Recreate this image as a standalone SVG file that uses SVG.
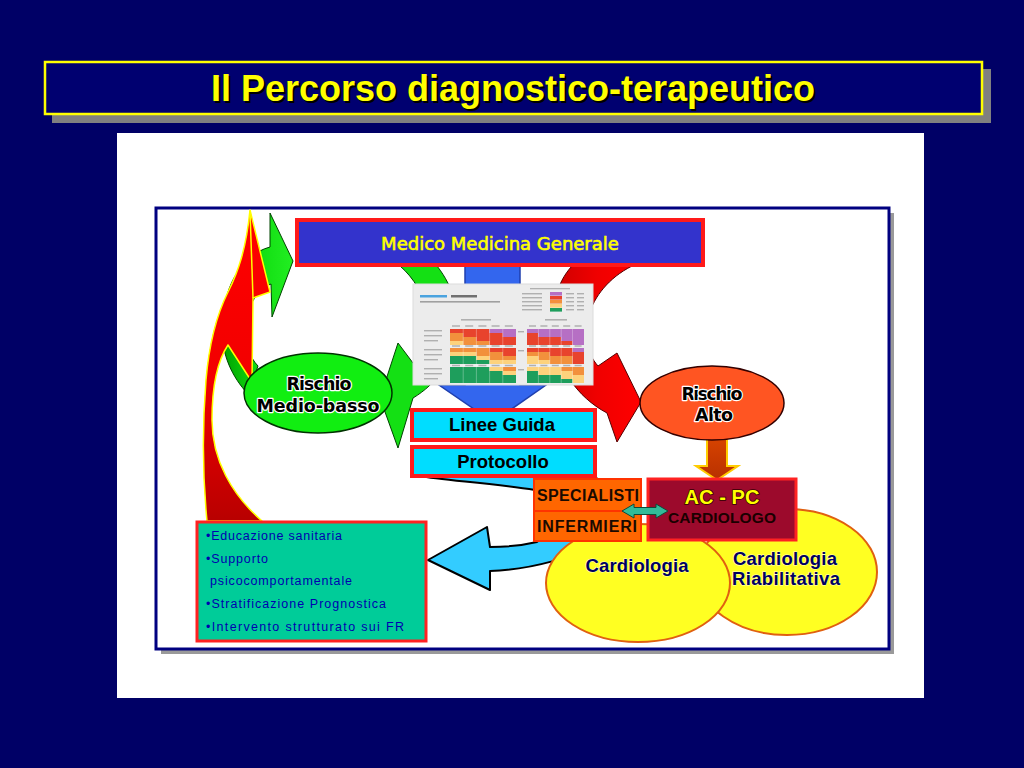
<svg xmlns="http://www.w3.org/2000/svg" width="1024" height="768" viewBox="0 0 1024 768">
<defs>
<linearGradient id="gRed" x1="0" y1="0" x2="0" y2="1"><stop offset="0" stop-color="#ff0000"/><stop offset="0.55" stop-color="#f20000"/><stop offset="1" stop-color="#b80000"/></linearGradient>
<linearGradient id="gGreen" x1="0" y1="0" x2="1" y2="0"><stop offset="0" stop-color="#00a000"/><stop offset="0.5" stop-color="#11dd11"/><stop offset="1" stop-color="#22ee22"/></linearGradient>
<linearGradient id="gRed2" x1="0" y1="0" x2="1" y2="0"><stop offset="0" stop-color="#cc0000"/><stop offset="0.5" stop-color="#f00000"/><stop offset="1" stop-color="#ff0000"/></linearGradient>
<linearGradient id="gOrange" x1="0" y1="0" x2="0" y2="1"><stop offset="0" stop-color="#d84400"/><stop offset="1" stop-color="#b83000"/></linearGradient>
<style>
.b{font-family:"Liberation Sans",Arial,sans-serif;font-weight:bold}
.d{font-family:"DejaVu Sans",Verdana,sans-serif}
.halo{font-family:"DejaVu Sans",Verdana,sans-serif;font-weight:bold;font-size:17.5px;fill:#000;stroke:#fff;stroke-width:2.4;paint-order:stroke;stroke-linejoin:round}
.nav{font-family:"Liberation Sans",Arial,sans-serif;font-weight:bold;font-size:18.5px;fill:#000060;stroke:#ffffc0;stroke-width:1;paint-order:stroke}
.li{font-family:"Liberation Sans",Arial,sans-serif;font-size:12.5px;fill:#0000b0}
.redbox{stroke:#ff1a1a;stroke-width:4}
.P{fill:#b66fc4}.R{fill:#e8432d}.O{fill:#f2903c}.Y{fill:#fdd27c}.G{fill:#1e9e5c}
.tiny{fill:#b0b0b0}
</style>
</defs>

<rect x="0" y="0" width="1024" height="768" fill="#000066"/>

<g id="title">
<rect x="52" y="69" width="939" height="54" fill="#808080"/>
<rect x="45" y="62" width="937" height="52" fill="#000070" stroke="#ffff00" stroke-width="2.5"/>
<text x="515" y="103" text-anchor="middle" class="b" font-size="36" fill="#000000">Il Percorso diagnostico-terapeutico</text>
<text x="513" y="101" text-anchor="middle" class="b" font-size="36" fill="#ffff00">Il Percorso diagnostico-terapeutico</text>
</g>

<rect x="117" y="133" width="807" height="565" fill="#ffffff"/>

<g id="frame">
<rect x="161" y="213" width="733" height="441" fill="#9a9a9a"/>
<rect x="156" y="208" width="733" height="441" fill="#ffffff" stroke="#000080" stroke-width="3"/>
</g>

<g id="connectors">
<!-- green arrow: Rischio Medio-basso to Medico -->
<path d="M270,247 L270,213 L293,261 L272,317 L271,284 C255,290 246,310 246,330 C246,345 250,358 258,366 L248,394 C232,377 222,355 222,330 C222,290 240,255 270,247 Z" fill="url(#gGreen)" stroke="#004400" stroke-width="1"/>
<!-- big red return arrow -->
<path d="M250,210 L270,292 L253,298 L252,382 L228,345 C218,360 212,385 212,420 C212,460 232,495 262,521 L207,521 C203,480 202,430 206,380 C209,345 215,318 228,292 C238,272 246,250 250,210 Z" fill="url(#gRed)" stroke="#ffff00" stroke-width="1.5" stroke-linejoin="round"/>
<line x1="250" y1="211" x2="253" y2="298" stroke="#ffff00" stroke-width="1.5"/>
<!-- green arc: Medico to Rischio Medio-basso -->
<path d="M400,266 C428,290 440,335 413,363 L398,343 L380,398 L398,448 L413,398 C460,370 472,310 437,266 Z" fill="#14e014" stroke="#004400" stroke-width="1"/>
<!-- red arc: Medico to Rischio Alto -->
<path d="M572,266 C540,300 545,380 607,413 L617,442 L641,402 L617,353 L598,366 C575,340 585,290 632,266 Z" fill="url(#gRed2)" stroke="#550000" stroke-width="1"/>
<!-- blue arrow down -->
<path d="M465,266 L520,266 L520,385 L546,385 L493,422 L439,385 L465,385 Z" fill="#3366ee" stroke="#1f3fae" stroke-width="1.5"/>
<!-- orange arrow down -->
<path d="M707,436 L727,436 L727,466 L738,466 L717,480 L696,466 L707,466 Z" fill="url(#gOrange)" stroke="#ffcc00" stroke-width="2"/>
<!-- cyan arrow to teal box -->
<path d="M420,476 C440,480 490,483 535,490 C556,500 556,530 537,542 C520,546 500,547 490,547 L487,527 L428,560 L490,590 L490,571 C530,570 580,556 605,540 C625,520 622,490 592,476 Z" fill="#33ccff" stroke="#000000" stroke-width="2" stroke-linejoin="round"/>
</g>

<g id="medico">
<rect x="297" y="220" width="406" height="45" fill="#3333cc" class="redbox"/>
<text x="500" y="250" text-anchor="middle" class="d" font-size="18" fill="#ffff00" stroke="#ffff00" stroke-width="0.6">Medico Medicina Generale</text>
</g>

<g id="chart">
<rect x="413" y="284" width="180" height="101" fill="#ececec" stroke="#dcdcdc" stroke-width="1"/>
<rect x="420" y="295" width="27" height="2.5" fill="#4aa3df"/>
<rect x="451" y="295" width="26" height="2.5" fill="#707070"/>
<rect x="420" y="301" width="80" height="1.6" fill="#a0a0a0"/>
<rect x="530" y="288" width="40" height="1.3" class="tiny"/>
<g class="tiny">
<rect x="522" y="293" width="20" height="1.4"/><rect x="522" y="297" width="20" height="1.4"/><rect x="522" y="301" width="20" height="1.4"/><rect x="522" y="305" width="20" height="1.4"/><rect x="522" y="309" width="20" height="1.4"/>
<rect x="566" y="293" width="8" height="1.4"/><rect x="566" y="297" width="8" height="1.4"/><rect x="566" y="301" width="8" height="1.4"/><rect x="566" y="305" width="8" height="1.4"/><rect x="566" y="309" width="8" height="1.4"/>
<rect x="577" y="293" width="7" height="1.4"/><rect x="577" y="297" width="7" height="1.4"/><rect x="577" y="301" width="7" height="1.4"/><rect x="577" y="305" width="7" height="1.4"/><rect x="577" y="309" width="7" height="1.4"/>
<rect x="461" y="319" width="30" height="1.6"/><rect x="545" y="319" width="22" height="1.6"/>
<rect x="424" y="330" width="18" height="1.4"/><rect x="424" y="335" width="18" height="1.4"/><rect x="424" y="340" width="14" height="1.4"/>
<rect x="424" y="349" width="18" height="1.4"/><rect x="424" y="354" width="18" height="1.4"/><rect x="424" y="359" width="14" height="1.4"/>
<rect x="424" y="368" width="18" height="1.4"/><rect x="424" y="373" width="18" height="1.4"/><rect x="424" y="378" width="14" height="1.4"/>
<rect x="518" y="331" width="6" height="1.4"/><rect x="518" y="350" width="6" height="1.4"/><rect x="518" y="369" width="6" height="1.4"/>
</g>
<g stroke="#b0b0b0" stroke-width="1.4" stroke-dasharray="8 5.2">
<line x1="452" y1="326" x2="516" y2="326"/><line x1="452" y1="346" x2="516" y2="346"/><line x1="452" y1="365.5" x2="516" y2="365.5"/>
</g>
<g stroke="#b0b0b0" stroke-width="1.4" stroke-dasharray="7 4.4">
<line x1="529" y1="326" x2="584" y2="326"/><line x1="529" y1="346" x2="584" y2="346"/><line x1="529" y1="365.5" x2="584" y2="365.5"/>
</g>
<rect x="550" y="292" width="12" height="3.6" class="P"/><rect x="550" y="296" width="12" height="3.6" class="R"/><rect x="550" y="300" width="12" height="3.6" class="O"/><rect x="550" y="304" width="12" height="3.6" class="Y"/><rect x="550" y="308" width="12" height="3.6" class="G"/>
<rect x="450" y="329" width="39.6" height="4" class="R"/><rect x="489.6" y="329" width="26.4" height="4" class="P"/>
<rect x="450" y="333" width="13.2" height="4" class="O"/><rect x="463.2" y="333" width="39.6" height="4" class="R"/><rect x="502.8" y="333" width="13.2" height="4" class="P"/>
<rect x="450" y="337" width="26.4" height="4" class="O"/><rect x="476.4" y="337" width="39.6" height="4" class="R"/>
<rect x="450" y="341" width="13.2" height="4" class="Y"/><rect x="463.2" y="341" width="26.4" height="4" class="O"/><rect x="489.6" y="341" width="26.4" height="4" class="R"/>
<rect x="527" y="329" width="57" height="4" class="P"/>
<rect x="527" y="333" width="11.4" height="4" class="R"/><rect x="538.4" y="333" width="45.6" height="4" class="P"/>
<rect x="527" y="337" width="34.2" height="4" class="R"/><rect x="561.2" y="337" width="22.8" height="4" class="P"/>
<rect x="527" y="341" width="45.6" height="4" class="R"/><rect x="572.6" y="341" width="11.4" height="4" class="P"/>
<rect x="450" y="348" width="39.6" height="4" class="O"/><rect x="489.6" y="348" width="26.4" height="4" class="R"/>
<rect x="450" y="352" width="26.4" height="4" class="Y"/><rect x="476.4" y="352" width="26.4" height="4" class="O"/><rect x="502.8" y="352" width="13.2" height="4" class="R"/>
<rect x="450" y="356" width="26.4" height="4" class="G"/><rect x="476.4" y="356" width="13.2" height="4" class="Y"/><rect x="489.6" y="356" width="26.4" height="4" class="O"/>
<rect x="450" y="360" width="39.6" height="4" class="G"/><rect x="489.6" y="360" width="26.4" height="4" class="Y"/>
<rect x="527" y="348" width="45.6" height="4" class="R"/><rect x="572.6" y="348" width="11.4" height="4" class="P"/>
<rect x="527" y="352" width="22.8" height="4" class="O"/><rect x="549.8" y="352" width="34.2" height="4" class="R"/>
<rect x="527" y="356" width="11.4" height="4" class="Y"/><rect x="538.4" y="356" width="34.2" height="4" class="O"/><rect x="572.6" y="356" width="11.4" height="4" class="R"/>
<rect x="527" y="360" width="22.8" height="4" class="Y"/><rect x="549.8" y="360" width="22.8" height="4" class="O"/><rect x="572.6" y="360" width="11.4" height="4" class="R"/>
<rect x="450" y="367" width="39.6" height="4" class="G"/><rect x="489.6" y="367" width="13.2" height="4" class="Y"/><rect x="502.8" y="367" width="13.2" height="4" class="O"/>
<rect x="450" y="371" width="52.8" height="4" class="G"/><rect x="502.8" y="371" width="13.2" height="4" class="Y"/>
<rect x="450" y="375" width="66" height="8" class="G"/>
<rect x="527" y="367" width="34.2" height="4" class="Y"/><rect x="561.2" y="367" width="22.8" height="4" class="O"/>
<rect x="527" y="371" width="11.4" height="4" class="G"/><rect x="538.4" y="371" width="34.2" height="4" class="Y"/><rect x="572.6" y="371" width="11.4" height="4" class="O"/>
<rect x="527" y="375" width="34.2" height="4" class="G"/><rect x="561.2" y="375" width="22.8" height="4" class="Y"/>
<rect x="527" y="379" width="45.6" height="4" class="G"/><rect x="572.6" y="379" width="11.4" height="4" class="Y"/>
<g stroke="#ffffff" stroke-width="0.6" opacity="0.5">
<line x1="463.2" y1="329" x2="463.2" y2="383"/><line x1="476.4" y1="329" x2="476.4" y2="383"/><line x1="489.6" y1="329" x2="489.6" y2="383"/><line x1="502.8" y1="329" x2="502.8" y2="383"/>
<line x1="538.4" y1="329" x2="538.4" y2="383"/><line x1="549.8" y1="329" x2="549.8" y2="383"/><line x1="561.2" y1="329" x2="561.2" y2="383"/><line x1="572.6" y1="329" x2="572.6" y2="383"/>
</g>
</g>

<g id="rischio-medio-basso">
<ellipse cx="318" cy="393" rx="74" ry="40" fill="#11ee11" stroke="#003300" stroke-width="1.5"/>
<text x="319" y="390" text-anchor="middle" class="halo" textLength="65">Rischio</text>
<text x="318" y="412" text-anchor="middle" class="halo" textLength="123">Medio-basso</text>
</g>

<g id="rischio-alto">
<ellipse cx="712" cy="403" rx="72" ry="37" fill="#ff5522" stroke="#330000" stroke-width="1.5"/>
<text x="712" y="400" text-anchor="middle" class="halo" textLength="61">Rischio</text>
<text x="714" y="421" text-anchor="middle" class="halo" textLength="38">Alto</text>
</g>

<g id="linee-guida">
<rect x="412" y="410" width="183" height="30" fill="#00ddff" class="redbox"/>
<text x="502" y="431" text-anchor="middle" class="b" font-size="18.5" fill="#000000">Linee Guida</text>
</g>

<g id="protocollo">
<rect x="412" y="447" width="183" height="29" fill="#00ddff" class="redbox"/>
<text x="503" y="468" text-anchor="middle" class="b" font-size="18.5" fill="#000000">Protocollo</text>
</g>

<g id="cardiologia-riabilitativa">
<ellipse cx="787" cy="572" rx="90" ry="63" fill="#ffff22" stroke="#e06010" stroke-width="2"/>
<text x="785" y="565" text-anchor="middle" class="nav" textLength="104">Cardiologia</text>
<text x="786" y="585" text-anchor="middle" class="nav" textLength="108">Riabilitativa</text>
</g>

<g id="cardiologia">
<ellipse cx="638" cy="583" rx="92" ry="59" fill="#ffff22" stroke="#e06010" stroke-width="2"/>
<text x="637" y="572" text-anchor="middle" class="nav" textLength="103">Cardiologia</text>
</g>

<g id="specialisti">
<rect x="534" y="479" width="107" height="32" fill="#ff6600" stroke="#ff3300" stroke-width="2"/>
<text x="588" y="501" text-anchor="middle" class="b" font-size="16" fill="#1a0a00" textLength="102">SPECIALISTI</text>
</g>

<g id="infermieri">
<rect x="534" y="511" width="107" height="30" fill="#ff6600" stroke="#ff3300" stroke-width="2"/>
<text x="587" y="532" text-anchor="middle" class="b" font-size="16" fill="#1a0a00" textLength="100">INFERMIERI</text>
</g>

<g id="ac-pc">
<rect x="648" y="479" width="148" height="61" fill="#9c0a2c" stroke="#ff2222" stroke-width="3"/>
<text x="722" y="504" text-anchor="middle" class="b" font-size="20" fill="#ffff00" stroke="#330000" stroke-width="1.5" paint-order="stroke" textLength="75">AC - PC</text>
<text x="722" y="523" text-anchor="middle" class="b" font-size="15.5" fill="#1a0000" textLength="108">CARDIOLOGO</text>
</g>

<g id="intervento">
<rect x="197" y="522" width="229" height="119" fill="#00cc99" stroke="#ff2222" stroke-width="3"/>
<text x="206" y="540" class="li" textLength="136">•Educazione sanitaria</text>
<text x="206" y="563" class="li" textLength="62">•Supporto</text>
<text x="210" y="585" class="li" textLength="142">psicocomportamentale</text>
<text x="206" y="608" class="li" textLength="180">•Stratificazione Prognostica</text>
<text x="206" y="631" class="li" textLength="198">•Intervento strutturato sui FR</text>
</g>

<g id="connectors-front">
<path d="M622,511 L634,504 L634,507.5 L656,507.5 L656,504 L668,511 L656,518 L656,514.5 L634,514.5 L634,518 Z" fill="#33bb99" stroke="#0d4a3a" stroke-width="1"/>
</g>
</svg>
